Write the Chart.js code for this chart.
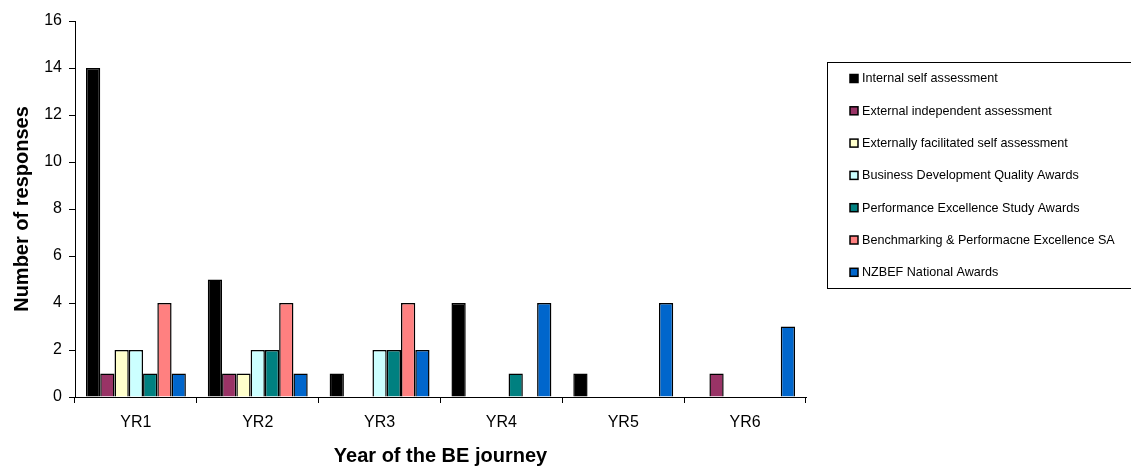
<!DOCTYPE html>
<html>
<head>
<meta charset="utf-8">
<script src="https://cdn.jsdelivr.net/npm/chart.js@4/dist/chart.umd.min.js"></script>
<style>
  html, body { margin: 0; padding: 0; background: #fff; }
  #wrap { width: 1131px; height: 468px; }
</style>
</head>
<body>
<div id="wrap"><canvas id="chart" width="1131" height="468"></canvas></div>
<script>
const years = ["YR1", "YR2", "YR3", "YR4", "YR5", "YR6"];

const seriesNames = [
  "Internal self assessment",
  "External independent assessment",
  "Externally facilitated self assessment",
  "Business Development Quality Awards",
  "Performance Excellence Study Awards",
  "Benchmarking & Performacne Excellence SA",
  "NZBEF National Awards"
];

const internalSelf = [14, 5, 1, 4, 1, 0];
const externalIndependent = [1, 1, 0, 0, 0, 1];
const externallyFacilitated = [2, 1, 0, 0, 0, 0];
const businessDev = [2, 2, 2, 0, 0, 0];
const perfStudy = [1, 2, 2, 1, 0, 0];
const benchmarking = [4, 4, 4, 0, 0, 0];
const nzbef = [1, 1, 2, 4, 4, 3];

const seriesColors = ["#000000", "#993366", "#FFFFCC", "#CCFFFF", "#008080", "#FF8080", "#0066CC"];
const yTicks = [0, 2, 4, 6, 8, 10, 12, 14, 16];

const allSeries = [internalSelf, externalIndependent, externallyFacilitated, businessDev, perfStudy, benchmarking, nzbef];

const FONT = "'Liberation Sans', Arial, sans-serif";

// boxed legend on the right, drawn by hand like the spreadsheet one
const boxLegend = {
  id: "boxLegend",
  afterDraw(chart) {
    const ctx = chart.ctx;
    const left = 827.5, top = 62.5, bottom = 288.5, right = 1140;
    ctx.save();
    ctx.strokeStyle = "#000";
    ctx.lineWidth = 1;
    ctx.strokeRect(left, top, right - left, bottom - top);
    ctx.font = "12.6px " + FONT;
    ctx.textBaseline = "middle";
    chart.data.datasets.forEach((ds, i) => {
      const y = 78.5 + i * 32.3;
      ctx.fillStyle = ds.backgroundColor;
      ctx.fillRect(850, y - 4, 8, 8);
      ctx.strokeStyle = "#000";
      ctx.lineWidth = 1.5;
      ctx.strokeRect(850, y - 4, 8, 8);
      ctx.fillStyle = "#000";
      ctx.fillText(ds.label, 862, y + 0.5);
    });
    ctx.restore();
  }
};

new Chart(document.getElementById("chart"), {
  type: "bar",
  data: {
    labels: years,
    datasets: allSeries.map((vals, i) => ({
      label: seriesNames[i],
      data: vals,
      backgroundColor: seriesColors[i],
      borderColor: "#000",
      borderWidth: 1.5,
      borderSkipped: "bottom",
      categoryPercentage: 0.82,
      barPercentage: 1.0
    }))
  },
  options: {
    responsive: false,
    animation: false,
    layout: { padding: { top: 21, right: 325, left: 0, bottom: 0 } },
    plugins: {
      legend: { display: false },
      tooltip: { enabled: false }
    },
    scales: {
      x: {
        afterFit: s => { s.height = 71; },
        grid: { display: true, drawOnChartArea: false, offset: true, color: "#000", tickLength: 6 },
        border: { color: "#000", width: 1 },
        ticks: { color: "#000", font: { family: FONT, size: 16 }, padding: 10 },
        title: {
          display: true,
          text: "Year of the BE journey",
          color: "#000",
          font: { family: FONT, size: 20, weight: "bold" },
          padding: { top: 0, bottom: 0 }
        }
      },
      y: {
        min: 0,
        max: 16,
        afterFit: s => { s.width = 75; },
        afterBuildTicks: s => { s.ticks = yTicks.map(v => ({ value: v })); },
        grid: { display: true, drawOnChartArea: false, color: "#000", tickLength: 6 },
        border: { color: "#000", width: 1 },
        ticks: { color: "#000", font: { family: FONT, size: 16 }, padding: 7 },
        title: {
          display: true,
          text: "Number of responses",
          color: "#000",
          font: { family: FONT, size: 20, weight: "bold" },
          padding: { top: 10, bottom: 0 }
        }
      }
    }
  },
  plugins: [boxLegend]
});
</script>
</body>
</html>
